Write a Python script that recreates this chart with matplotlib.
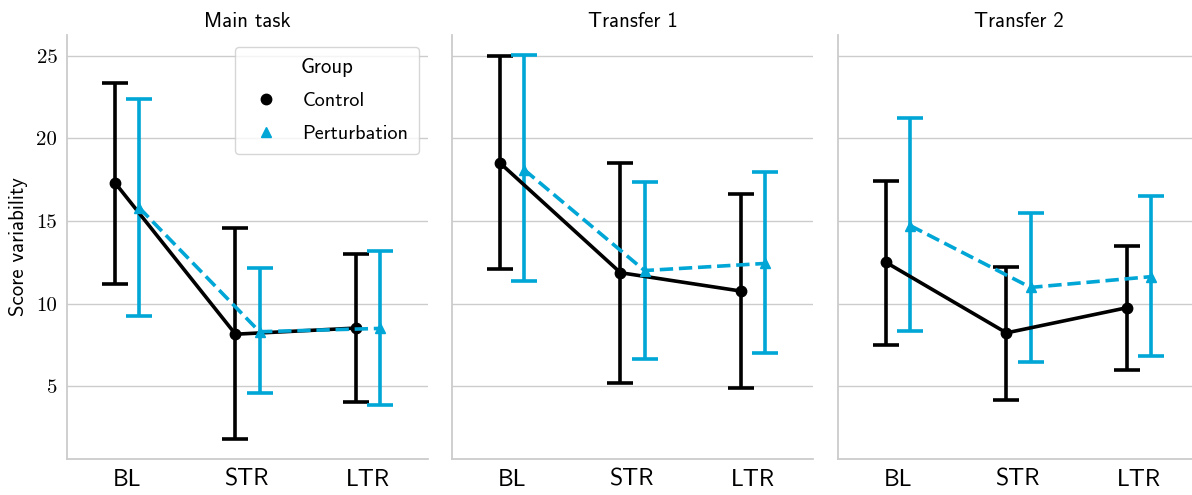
import numpy as np
import matplotlib
matplotlib.use('Agg')
import matplotlib.pyplot as plt
from matplotlib.lines import Line2D

# Данные: средние значения и границы доверительных интервалов
panels = ['Main task', 'Transfer 1', 'Transfer 2']
phases = ['BL', 'STR', 'LTR']
groups = ['Control', 'Perturbation']

control_mean = [[17.3, 8.15, 8.52], [18.5, 11.87, 10.76], [12.49, 8.23, 9.75]]
control_low = [[11.18, 1.79, 4.03], [12.07, 5.2, 4.88], [7.48, 4.15, 5.97]]
control_high = [[23.36, 14.58, 13.0], [24.96, 18.53, 16.64], [17.42, 12.23, 13.5]]

pert_mean = [[15.8, 8.3, 8.5], [18.1, 12.0, 12.43], [14.72, 10.98, 11.63]]
pert_low = [[9.24, 4.58, 3.85], [11.36, 6.66, 7.02], [8.33, 6.47, 6.86]]
pert_high = [[22.39, 12.15, 13.18], [25.02, 17.34, 17.97], [21.22, 15.5, 16.52]]

yticks = [5, 10, 15, 20, 25]

black = '#000000'
blue = '#00A6D6'
grey = '#cccccc'
sans = 'cmss10'
serif = 'cmr10'

W, H = 1192, 495
fig = plt.figure(figsize=(W / 100, H / 100), dpi=100)

lefts = [67, 452, 838]
axw, axb, axt = 361, 459, 35
axes = []
for i, left in enumerate(lefts):
    ax = fig.add_axes([left / W, (H - axb) / H, axw / W, (axb - axt) / H])
    axes.append(ax)

x = np.arange(len(phases))
dodge = 0.1

for i, ax in enumerate(axes):
    series = [
        (control_mean[i], control_low[i], control_high[i], black, 'o', '-', -dodge),
        (pert_mean[i], pert_low[i], pert_high[i], blue, '^', '--', dodge),
    ]
    for mean, low, high, col, mk, ls, off in series:
        mean = np.array(mean)
        err = np.array([mean - np.array(low), np.array(high) - mean])
        ax.errorbar(x + off, mean, yerr=err, fmt='none', ecolor=col,
                    elinewidth=2.6, capsize=9.5, capthick=2.6, zorder=3)
        ax.plot(x + off, mean, color=col, ls=ls, lw=2.6, marker=mk,
                markersize=7.5, zorder=4)

    ax.set_xlim(-0.5, 2.5)
    ax.set_ylim(0.6, 26.25)
    ax.set_xticks(x)
    ax.set_xticklabels(phases, fontfamily=sans, fontsize=17)
    ax.set_yticks(yticks)
    if i == 0:
        ax.set_yticklabels([str(t) for t in yticks], fontfamily=serif, fontsize=15)
        ax.set_ylabel('Score variability', fontfamily=sans, fontsize=15, labelpad=6)
    else:
        ax.set_yticklabels([])
    ax.tick_params(axis='both', length=0, pad=7)
    ax.grid(axis='y', color=grey, lw=1.0)
    ax.set_axisbelow(True)
    for s in ['top', 'right']:
        ax.spines[s].set_visible(False)
    for s in ['left', 'bottom']:
        ax.spines[s].set_color(grey)
        ax.spines[s].set_linewidth(1.3)
    ax.set_title(panels[i], fontfamily=sans, fontsize=15, pad=6)

handles = [
    Line2D([], [], color=black, marker='o', ls='none', markersize=7.5),
    Line2D([], [], color=blue, marker='^', ls='none', markersize=7.5),
]
leg = axes[0].legend(handles, groups, title='Group', loc='upper left',
                     bbox_to_anchor=(0.465, 0.972), borderaxespad=0,
                     prop={'family': sans, 'size': 14.5}, handletextpad=0.8,
                     borderpad=0.55, labelspacing=0.75, frameon=True)
leg.get_title().set_fontfamily(sans)
leg.get_title().set_fontsize(15)
leg.get_frame().set_edgecolor(grey)

fig.savefig('out.png', dpi=100)
